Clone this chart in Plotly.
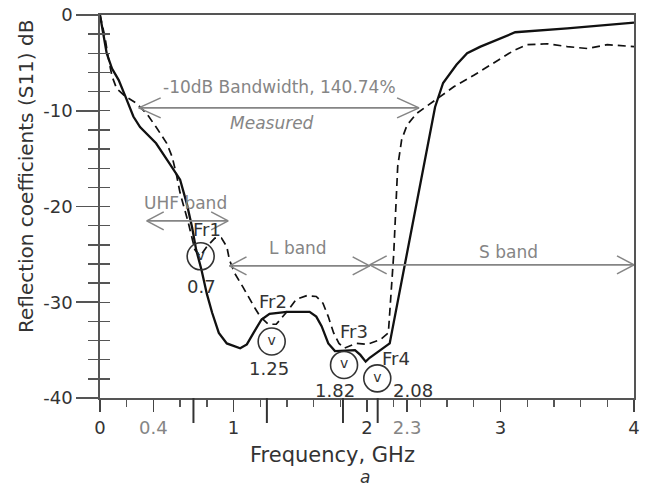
import plotly.graph_objects as go

# ---------------- data ----------------
freq_sim = [0, 0.025, 0.05, 0.09, 0.14, 0.19, 0.25, 0.30, 0.42, 0.52, 0.60, 0.65, 0.69, 0.72,
            0.76, 0.80, 0.84, 0.89, 0.95, 1.05, 1.10, 1.15, 1.21, 1.27, 1.40, 1.57, 1.62, 1.66,
            1.71, 1.76, 1.85, 1.91, 1.95, 1.99, 2.02, 2.10, 2.17, 2.51, 2.57, 2.67, 2.75, 2.85,
            2.97, 3.11, 3.50, 4.0]
s11_sim = [0, -1.9, -4.0, -5.6, -6.8, -8.5, -10.6, -11.7, -13.4, -15.5, -17.2, -19.7, -22.2, -24.5,
           -26.6, -29.1, -31.1, -33.2, -34.3, -34.8, -34.4, -33.2, -31.8, -31.2, -31.0, -31.0, -31.5, -32.5,
           -34.3, -35.1, -35.0, -35.0, -35.5, -36.2, -35.8, -35.0, -34.3, -9.6, -7.1, -5.2, -4.0, -3.3,
           -2.6, -1.8, -1.4, -0.8]

freq_meas = [0, 0.037, 0.06, 0.09, 0.125, 0.19, 0.27, 0.35, 0.42, 0.50, 0.54, 0.57, 0.60, 0.66,
             0.71, 0.75, 0.80, 0.86, 0.91, 0.95, 0.97, 1.01, 1.07, 1.12, 1.16, 1.20, 1.26, 1.32,
             1.40, 1.47, 1.55, 1.62, 1.67, 1.71, 1.75, 1.79, 1.83, 1.92, 2.00, 2.10, 2.16, 2.20,
             2.23, 2.26, 2.30, 2.37, 2.50, 2.65, 2.80, 2.95, 3.10, 3.20, 3.35, 3.50, 3.65, 3.80, 4.0]
s11_meas = [0, -2.3, -4.3, -6.4, -7.7, -8.5, -9.2, -10.3, -11.7, -13.4, -14.8, -16.5, -18.6, -21.6,
            -24.5, -25.2, -24.2, -23.3, -23.3, -24.2, -25.6, -27.0, -28.4, -29.7, -30.6, -31.5, -32.3, -32.3,
            -31.0, -29.7, -29.3, -29.4, -30.1, -31.5, -33.2, -34.3, -34.8, -34.3, -34.4, -33.9, -33.2, -25.0,
            -15.8, -13.0, -11.5, -10.3, -9.0, -7.5, -6.3, -5.0, -3.7, -3.1, -3.0, -3.3, -3.5, -3.1, -3.3]

x_tickvals = [0, 0.4, 1, 2, 2.3, 3, 4]
x_ticktext = ["0", "0.4", "1", "2", "2.3", "3", "4"]
x_grey_ticks = ["0.4", "2.3"]
y_tickvals = [0, -10, -20, -30, -40]
y_ticktext = ["0", "-10", "-20", "-30", "-40"]

res_names = ["Fr1", "Fr2", "Fr3", "Fr4"]
res_freqs = [0.7, 1.25, 1.82, 2.08]
res_freq_text = ["0.7", "1.25", "1.82", "2.08"]

band_names = ["UHF band", "L band", "S band"]
band_start = [0.35, 0.97, 2.02]
band_end = [0.96, 2.02, 4.0]
bw_start, bw_end, bw_level = 0.29, 2.39, -9.7
bw_text = "-10dB Bandwidth, 140.74%"
bw_sub = "Measured"

# ---------------- layout geometry ----------------
W, H = 648, 494
ML, MR, MT, MB = 100, 14, 15, 96          # plot-area placement in the window
PW, PH = W - ML - MR, H - MT - MB
XR, YR = [0, 4], [-40, 0]
SX = PW / (XR[1] - XR[0])   # px per GHz
SY = PH / (YR[1] - YR[0])   # px per dB

FONT = "DejaVu Sans"
GREY = "#858585"
DARK = "#333333"

def px2paper(px, py):
    return (px - ML) / PW, 1 - (py - MT) / PH

fig = go.Figure()

fig.add_trace(go.Scatter(x=freq_sim, y=s11_sim, mode="lines",
                         line=dict(color="#111111", width=2.3), showlegend=False,
                         hoverinfo="skip"))
fig.add_trace(go.Scatter(x=freq_meas, y=s11_meas, mode="lines",
                         line=dict(color="#111111", width=1.7, dash="8px,5px"), showlegend=False,
                         hoverinfo="skip"))
# invisible trace activating the overlay axis that carries the inside minor ticks
fig.add_trace(go.Scatter(x=[0], y=[0], yaxis="y2", mode="markers", marker=dict(opacity=0),
                         showlegend=False, hoverinfo="skip"))

shapes = []
annotations = []

def text_ann(x, y, text, size, color, xref="x", yref="y", **kw):
    annotations.append(dict(x=x, y=y, xref=xref, yref=yref, text=text, showarrow=False,
                            xanchor="center", yanchor="middle",
                            font=dict(family=FONT, size=size, color=color), **kw))

def arrow(x0, x1, y, hl, hh, color=GREY, width=1.6):
    shapes.append(dict(type="line", xref="x", yref="y", x0=x0, x1=x1, y0=y, y1=y,
                       line=dict(color=color, width=width)))
    for tip, sgn in ((x0, 1), (x1, -1)):
        for d in (1, -1):
            shapes.append(dict(type="line", xref="x", yref="y", x0=tip, y0=y,
                               x1=tip + sgn * hl / SX, y1=y + d * hh / SY,
                               line=dict(color=color, width=width)))

# bandwidth arrow
arrow(bw_start, bw_end, bw_level, 22, 10)
text_ann(1.348, -7.5, bw_text, 17, GREY)
text_ann(1.288, -11.3, "<i>" + bw_sub + "</i>", 17, GREY)

# band arrows
band_levels = [-21.5, -26.2, -26.1]
band_label_pos = [(0.637, -19.6), (1.483, -24.3), (3.06, -24.7)]
for name, s, e, lvl, (lx, ly) in zip(band_names, band_start, band_end, band_levels, band_label_pos):
    arrow(s, e, lvl, 17, 9)
    text_ann(lx, ly, name, 17, GREY)

# resonance markers
circle_x = [0.754, 1.286, 1.828, 2.077]
circle_y = [-25.2, -34.1, -36.55, -37.95]
name_pos = [(0.80, -22.45), (1.296, -29.97), (1.90, -33.1), (2.22, -35.85)]
val_pos = [(0.764, -28.4), (1.266, -36.97), (1.76, -39.2), (2.347, -39.2)]

fig.add_trace(go.Scatter(x=circle_x, y=circle_y, mode="markers+text",
                         marker=dict(symbol="circle-open", size=27,
                                     line=dict(color=DARK, width=1.6), color=DARK),
                         text=["v"] * len(circle_x), textposition="middle center",
                         textfont=dict(family=FONT, size=14, color=DARK),
                         showlegend=False, hoverinfo="skip", cliponaxis=False))

for nm, vt, (nx, ny), (vx, vy) in zip(res_names, res_freq_text, name_pos, val_pos):
    text_ann(nx, ny, nm, 18, DARK)
    text_ann(vx, vy, vt, 18, DARK)

# long ticks at resonance frequencies
for f in res_freqs:
    shapes.append(dict(type="line", xref="x", yref="paper", x0=f, x1=f, y0=0, y1=-25 / PH,
                       line=dict(color=DARK, width=2)))

# axis titles
tx, ty = px2paper(332, 455)
text_ann(tx, ty, "Frequency, GHz", 21, DARK, xref="paper", yref="paper")
ax_, ay_ = px2paper(365, 477)
text_ann(ax_, ay_, "<i>a</i>", 17, DARK, xref="paper", yref="paper")
yx, yy = px2paper(26, 177)
text_ann(yx, yy, "Reflection coefficients (S11) dB", 20, DARK, xref="paper", yref="paper",
         textangle=-90)

x_ticklabels = [("<span style='color:%s'>%s</span>" % (GREY, t)) if t in x_grey_ticks else t
                for t in x_ticktext]

fig.update_layout(
    width=W, height=H,
    margin=dict(l=ML, r=MR, t=MT, b=MB),
    paper_bgcolor="white", plot_bgcolor="white",
    showlegend=False,
    hovermode=False,
    font=dict(family=FONT, color=DARK),
    xaxis=dict(range=XR, tickvals=x_tickvals, ticktext=x_ticklabels, ticks="outside",
               ticklen=12, tickwidth=1.6, tickcolor="#444", showgrid=False, zeroline=False,
               showline=True, linecolor="#555", linewidth=1.8, mirror=True, automargin=False,
               tickfont=dict(family=FONT, size=18, color=DARK), ticklabelstandoff=1,
               ticklabeloverflow="allow",
               minor=dict(dtick=0.2, tick0=0, ticks="outside", ticklen=7, tickwidth=1.4,
                          tickcolor="#555")),
    yaxis=dict(range=YR, tickvals=y_tickvals, ticktext=y_ticktext, ticks="outside",
               ticklen=22, tickwidth=1.6, tickcolor="#555", showgrid=False, zeroline=False,
               showline=True, linecolor="#555", linewidth=1.8, mirror=True, automargin=False,
               tickfont=dict(family=FONT, size=18, color=DARK), ticklabeloverflow="allow",
               minor=dict(dtick=2, tick0=0, ticks="outside", ticklen=10, tickwidth=1.4,
                          tickcolor="#555")),
    yaxis2=dict(range=YR, overlaying="y", anchor="x", side="left", ticks="inside",
                ticklen=10, tickwidth=1.4, tickcolor="#555", dtick=2, tick0=0, automargin=False,
                showticklabels=False, showgrid=False, zeroline=False, showline=False),
    shapes=shapes,
    annotations=annotations,
)

# remove the page's default body margin so the figure sits at the window's top-left corner
fig.write_html("out.html", config={"displayModeBar": False, "staticPlot": True},
               post_script="document.body.style.margin='0';")
